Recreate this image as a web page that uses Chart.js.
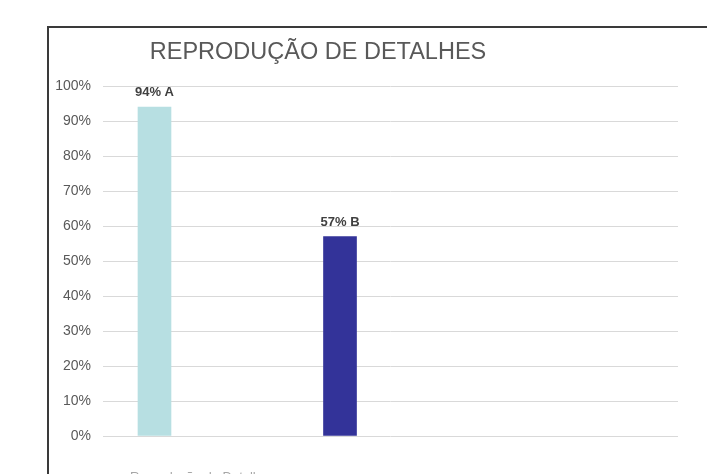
<!DOCTYPE html>
<html>
<head>
<meta charset="utf-8">
<script src="https://cdn.jsdelivr.net/npm/chart.js@4.4.1/dist/chart.umd.min.js"></script>
<style>
  html, body { margin: 0; padding: 0; background: #ffffff; overflow: hidden; }
  #frame { position: absolute; left: 47px; top: 26px; width: 800px; height: 600px;
           border-left: 2px solid #3a3a3a; border-top: 2px solid #3a3a3a; box-sizing: border-box; }
  #wrap { position: absolute; left: 0; top: 0; width: 707px; height: 474px; }
</style>
</head>
<body>
<div id="frame"></div>
<div id="wrap"><canvas id="c" width="707" height="474"></canvas></div>
<script>
const chartTitle = 'REPRODUÇÃO DE DETALHES';
const categories = ['A', 'B'];
const values = [94, 57];
const barLabels = ['94% A', '57% B'];
const barColors = ['#b7dfe2', '#333399'];
const yTicks = [0, 10, 20, 30, 40, 50, 60, 70, 80, 90, 100];
const legendText = 'Reprodução de Detalhes';

const titlePlugin = {
  id: 'customTitle',
  afterDraw(chart) {
    const ctx = chart.ctx;
    ctx.save();
    ctx.font = '23.5px "Liberation Sans", Arial, sans-serif';
    ctx.fillStyle = '#595959';
    ctx.textAlign = 'center';
    ctx.textBaseline = 'middle';
    ctx.fillText(chartTitle, 318, 53);
    ctx.font = '13px "Liberation Sans", Arial, sans-serif';
    ctx.textAlign = 'left';
    ctx.textBaseline = 'top';
    ctx.fillStyle = '#a6a6a6';
    ctx.fillText(legendText, 130, 471);
    ctx.restore();
  }
};

const labelPlugin = {
  id: 'barLabels',
  afterDatasetsDraw(chart) {
    const ctx = chart.ctx;
    const meta = chart.getDatasetMeta(0);
    ctx.save();
    ctx.font = 'bold 13px "Liberation Sans", Arial, sans-serif';
    ctx.fillStyle = '#404040';
    ctx.textAlign = 'center';
    ctx.textBaseline = 'bottom';
    meta.data.forEach((bar, i) => {
      ctx.fillText(barLabels[i], bar.x, bar.y - 8);
    });
    ctx.restore();
  }
};

new Chart(document.getElementById('c'), {
  type: 'bar',
  data: {
    labels: categories,
    datasets: [
      {
        data: categories.map((c, i) => ({ x: i, y: values[i] })),
        backgroundColor: barColors,
        barThickness: 33
      }
    ]
  },
  options: {
    responsive: false,
    animation: false,
    layout: { padding: { left: 40, right: 29, top: 86, bottom: 38 } },
    plugins: { legend: { display: false }, title: { display: false }, tooltip: { enabled: false } },
    scales: {
      x: { type: 'linear', display: false, min: -0.2776, max: 2.822, offset: false },
      y: {
        min: 0, max: 100,
        afterFit(scale) { scale.width = 63; },
        afterBuildTicks(scale) { scale.ticks = yTicks.map(v => ({ value: v })); },
        ticks: {
          padding: 12,
          color: '#595959',
          font: { family: '"Liberation Sans", Arial, sans-serif', size: 14 },
          callback: v => v + '%'
        },
        grid: { color: '#d9d9d9', lineWidth: 1, drawTicks: false },
        border: { display: false }
      }
    }
  },
  plugins: [titlePlugin, labelPlugin]
});
</script>
</body>
</html>
